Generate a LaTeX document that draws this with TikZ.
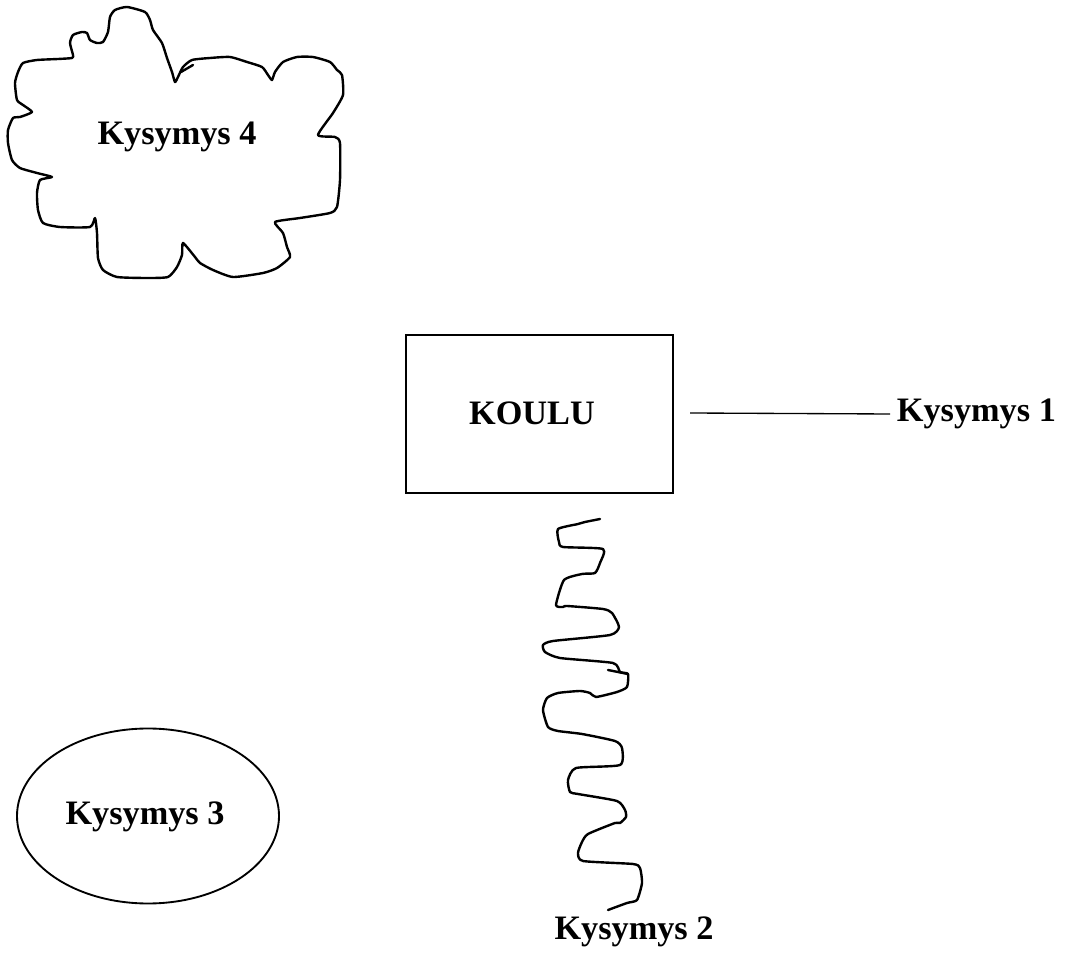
\documentclass[tikz,border=0pt]{standalone}
\usepackage{fontspec}
\setmainfont{Liberation Serif}
\usetikzlibrary{shapes.geometric}
\tikzset{
  lbl/.style={font=\fontsize{25.7}{30}\selectfont\bfseries, inner sep=0pt},
  hand/.style={line width=1.8pt, line join=round, line cap=round},
  boxshape/.style={draw, line width=1.5pt, minimum width=200pt, minimum height=118.5pt, inner sep=0pt},
  ovalshape/.style={draw, ellipse, line width=1.4pt, minimum width=196.5pt, minimum height=131.25pt, inner sep=0pt},
}
\begin{document}
\begin{tikzpicture}[x=0.75pt,y=-0.75pt]
\useasboundingbox (0,0) rectangle (1065,955);
% cloud
\draw[hand] plot[smooth cycle, tension=0.35] coordinates {
 (115,10) (127,7) (145,12) (150,20) (153,30) (162,43) (167,58) (172,72) (175,82)
 (178,77) (183,67) (192,60) (210,58) (230,57) (247,62) (262,67) (268,75) (272,80)
 (275,72) (283,62) (297,57) (313,57) (330,62) (337,70) (342,75) (343,95) (333,113)
 (318,135) (335,137) (340,143) (340,180) (337,207) (330,213) (300,218) (275,222)
 (283,233) (287,247) (290,257) (277,268) (263,273) (233,277) (213,270) (200,263)
 (195,257) (183,243) (182,255) (177,267) (168,277) (147,278) (117,277) (103,270)
 (98,258) (97,233) (95,218) (90,227) (60,227) (43,223) (38,210) (37,193) (40,180)
 (52,177) (37,173) (20,168) (12,160) (8,143) (8,130) (13,118) (20,117) (32,112)
 (23,105) (17,100) (15,83) (18,72) (23,63) (37,60) (58,59) (72,58) (73,55) (70,43)
 (73,35) (82,32) (87,33) (90,40) (97,43) (103,42) (108,32) (110,17)};
\draw[hand] (181,72) -- (193,65);
\node[lbl] (q4) at (177,137) {Kysymys 4};
% school box
\node[boxshape] (koulu) at (539.5,414) {};
\node[lbl] (kt) at (532,413) {KOULU};
% question 1
\node[lbl, anchor=west, inner sep=5pt] (q1) at (890,414) {Kysymys 1};
\coordinate (l1) at (690,413);
\draw[line width=1pt] (l1) -- (q1.west);
% squiggle to question 2
\node[lbl] (q2) at (634,932) {Kysymys 2};
\draw[hand] plot[smooth, tension=0.35] coordinates {
 (600,519) (585,522) (578,524) (558,529) (559,542) (563,547) (603,549) (600,563)
 (595,573) (582,574) (564,580) (556,605) (563,607) (567,606) (603,609) (612,613)
 (619,627) (610,635) (553,641) (543,645) (545,652) (560,658) (613,663) (620,672)
 (628,674) (627,687) (617,692) (596,697) (590,693) (580,691) (558,693) (547,698)
 (543,710) (548,727) (558,731) (582,734) (615,741) (622,748) (620,765) (576,768)
 (568,780) (570,792) (578,794) (617,801) (625,810) (626,817) (620,823) (615,823)
 (588,834) (582,842) (578,853) (583,861) (633,864) (640,868) (642,883) (637,900)
 (627,903) (608,910)};
\draw[hand] (608,670) -- (628,674);
% question 3
\node[ovalshape] (q3) at (148,816) {};
\node[lbl] (q3t) at (145,817) {Kysymys 3};
\end{tikzpicture}
\end{document}
